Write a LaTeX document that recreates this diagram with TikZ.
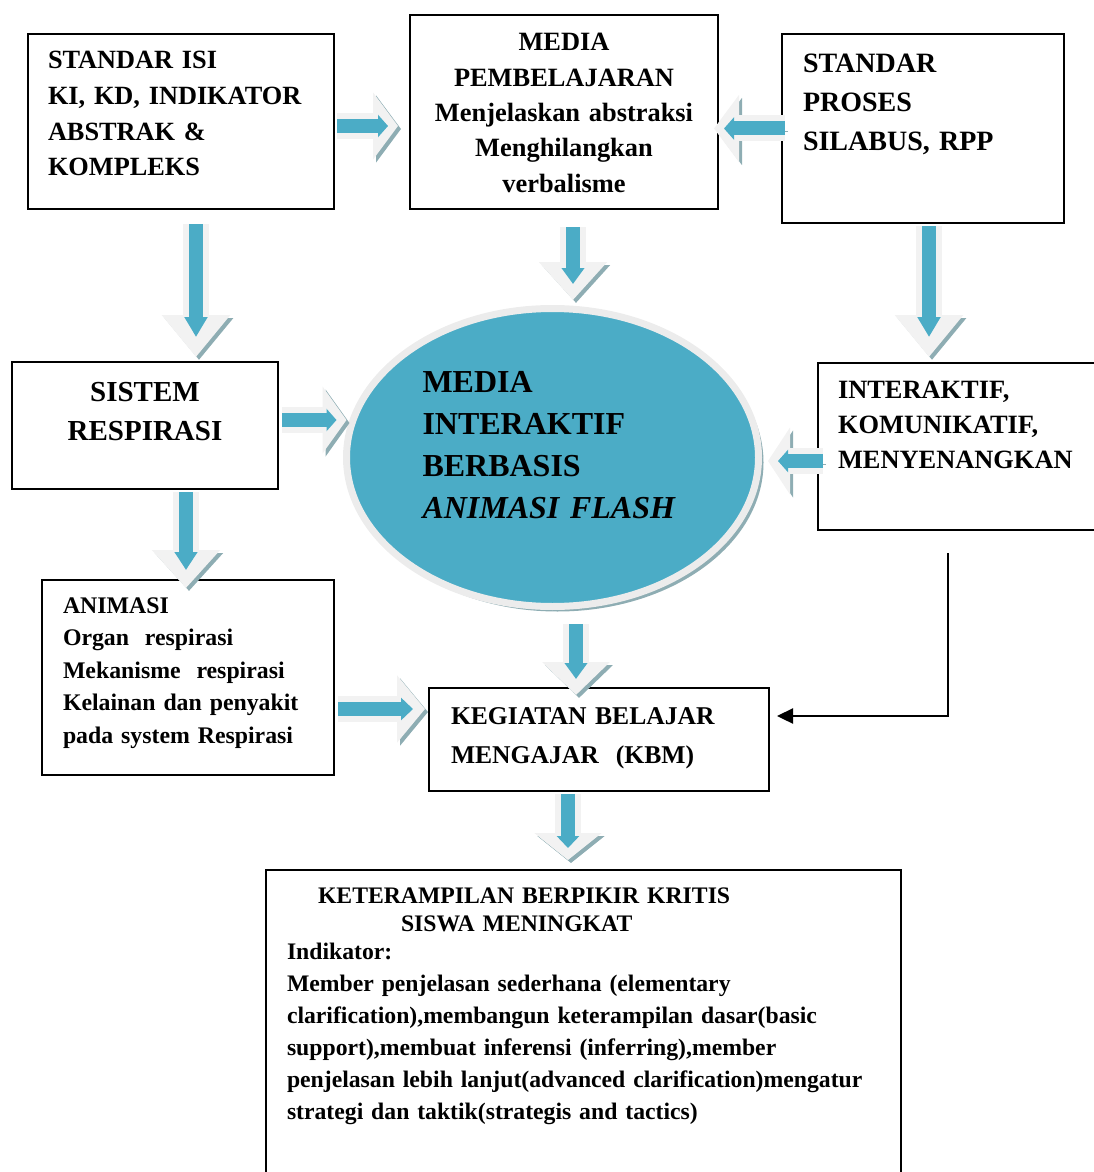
\documentclass[tikz,border=0pt]{standalone}
\usepackage{fontspec}
\setmainfont{Liberation Serif}
\definecolor{flashteal}{RGB}{75,172,198}
\definecolor{arrowbody}{RGB}{242,242,242}
\definecolor{arrowshade}{RGB}{142,173,179}
\definecolor{ringgray}{RGB}{236,236,236}
\usetikzlibrary{arrows.meta, shapes.geometric, calc, shadows}

\begin{document}
\begin{tikzpicture}[
    x=0.5pt, y=-0.5pt,
    box/.style={draw, line width=1pt, anchor=north west, inner ysep=0pt, align=left},
    fatarrow/.style 2 args={draw=arrowbody, line width=13pt, -{Triangle[width=33pt,length=#1]},
      preaction={draw=arrowshade, transform canvas={shift={(1.5pt,-1.5pt)}}},
      postaction={draw=flashteal, line width=7pt, -{Triangle[width=11pt,length=#2]}, shorten >=#2}},
    thinarrow/.style={line width=1.2pt, -{Triangle[length=8pt,width=7.5pt]}},
  ]
  \useasboundingbox (0,0) rectangle (1093,1172);

  % Top row
  \node[box, text width=133pt, inner xsep=10pt, text height=17.5pt, text depth=70pt,
        font=\fontsize{13.15}{17.8}\selectfont\bfseries] (isi) at (27,33)
        {STANDAR ISI\\KI, KD, INDIKATOR\\ABSTRAK \&\\KOMPLEKS};
  \node[box, align=center, text width=146pt, inner xsep=4pt, text height=18pt, text depth=79pt,
        font=\fontsize{13.2}{17.65}\selectfont\bfseries] (media) at (409,14)
        {MEDIA\\PEMBELAJARAN\\Menjelaskan abstraksi\\Menghilangkan\\verbalisme};
  \node[box, text width=120pt, inner xsep=10.5pt, text height=19.5pt, text depth=75pt,
        font=\fontsize{14}{19.5}\selectfont\bfseries] (proses) at (781,33)
        {STANDAR\\PROSES\\SILABUS, RPP};

  % Middle row
  \node[box, align=center, text width=125pt, inner xsep=4pt, text height=19.5pt, text depth=44pt,
        font=\fontsize{14.5}{19.5}\selectfont\bfseries] (sistem) at (11,361)
        {SISTEM\\RESPIRASI};
  \node[ellipse, fill=flashteal, draw=ringgray, line width=3.5pt,
        minimum width=206pt, minimum height=149pt,
        drop shadow={shadow xshift=2.5pt, shadow yshift=-2.5pt, fill=arrowshade, opacity=1},
        align=left, text width=130pt, text height=11pt, text depth=76.5pt,
        font=\fontsize{16}{21}\selectfont\bfseries] (ell) at (552.5,457.5)
        {MEDIA\\INTERAKTIF\\BERBASIS\\\textit{ANIMASI FLASH}};
  \node[box, text width=125pt, inner xsep=10pt, text height=17.5pt, text depth=66pt,
        font=\fontsize{13.2}{17.5}\selectfont\bfseries] (inter) at (817,362)
        {INTERAKTIF,\\KOMUNIKATIF,\\MENYENANGKAN};

  % Lower part
  \node[box, text width=125pt, inner xsep=10.5pt, text height=16.5pt, text depth=81pt,
        font=\fontsize{11.9}{16.25}\selectfont\bfseries] (anim) at (41,579)
        {ANIMASI\\Organ~~respirasi\\Mekanisme~~respirasi\\Kelainan dan penyakit\\pada system Respirasi};
  \node[box, text width=148pt, inner xsep=11pt, text height=18pt, text depth=33.5pt,
        font=\fontsize{12.8}{19.5}\selectfont\bfseries] (kbm) at (428,687)
        {KEGIATAN BELAJAR\\MENGAJAR~~(KBM)};
  \node[box, text width=296.5pt, inner xsep=10.5pt, text height=16.5pt, text depth=140pt,
        font=\fontsize{11.85}{16}\selectfont\bfseries] (hasil) at (265,869)
        {\hspace*{15.5pt}KETERAMPILAN BERPIKIR KRITIS\\[-2pt]
         \hspace*{57pt}SISWA MENINGKAT\\[-2pt]
         Indikator:\\
         Member penjelasan sederhana (elementary\\
         clarification),membangun keterampilan dasar(basic\\
         support),membuat inferensi (inferring),member\\
         penjelasan lebih lanjut(advanced clarification)mengatur\\
         strategi dan taktik(strategis and tactics)};

  % Fat arrows
  \draw[fatarrow={12.5pt}{5pt}] ($(isi.east)+(2,4.5)$) -- ($(media.west |- isi.east)+(-11,4.5)$);
  \draw[fatarrow={12.5pt}{5pt}] ($(proses.west)+(4,0)$) -- ($(media.east |- proses.west)+(-5,0)$);
  \draw[fatarrow={19pt}{8pt}] ($(media.south)+(9,17)$) -- ($(media.south |- ell.north)+(9,-5)$);
  \draw[fatarrow={21pt}{10pt}] ($(isi.south)+(15,14)$) -- ($(isi.south |- sistem.north)+(15,-4)$);
  \draw[fatarrow={21pt}{10pt}] ($(proses.south)+(6,2)$) -- ($(proses.south |- inter.north)+(6,-5)$);
  \draw[fatarrow={12pt}{5pt}] ($(sistem.east)+(3,-5.5)$) -- ($(sistem.east -| ell.west)+(3.5,-5.5)$);
  \draw[fatarrow={11pt}{5pt}] ($(inter.west)+(6,14.5)$) -- ($(inter.west -| ell.east)+(6,14.5)$);
  \draw[fatarrow={19pt}{9pt}] ($(sistem.south)+(41,2)$) -- ($(sistem.south |- anim.north)+(41,9)$);
  \draw[fatarrow={16.5pt}{8pt}] ($(ell.south)+(23.5,14)$) -- ($(ell.south |- kbm.north)+(23.5,8)$);
  \draw[fatarrow={14pt}{6pt}] ($(anim.east)+(3,31.5)$) -- ($(anim.east -| kbm.west)+(-3,31.5)$);
  \draw[fatarrow={13.5pt}{6pt}] ($(kbm.south)+(-31,2)$) -- ($(kbm.south |- hasil.north)+(-31,-9)$);

  % Feedback line
  \draw[thinarrow] ($(inter.south west)+(131,22)$) |- ($(kbm.east)+(7,-23.5)$);

\end{tikzpicture}
\end{document}
